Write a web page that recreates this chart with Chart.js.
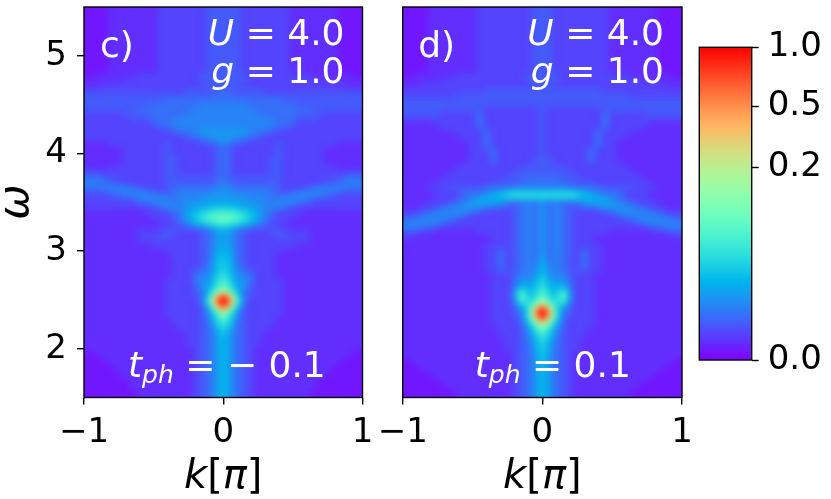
<!DOCTYPE html>
<html><head><meta charset="utf-8"><title>Spectral function A(k, omega)</title>
<script src="https://cdn.jsdelivr.net/npm/chart.js@4.4.1/dist/chart.umd.min.js"></script>
<style>
html,body{margin:0;padding:0;background:#fff;}
body{width:831px;height:499px;position:relative;overflow:hidden;}
canvas{position:absolute;top:0;}
</style></head><body>
<canvas id="panelC" width="380" height="499" style="left:0px"></canvas>
<canvas id="panelD" width="320" height="499" style="left:370px"></canvas>
<canvas id="cbar" width="141" height="499" style="left:690px"></canvas>
<script>
// ---------- data ----------
const GAMMA = 0.3;               // colour norm exponent (PowerNorm)
const kValues = [-1,-0.95,-0.9,-0.85,-0.8,-0.75,-0.7,-0.65,-0.6,-0.55,-0.5,-0.45,-0.4,-0.35,-0.3,-0.25,-0.2,-0.15,-0.1,-0.05,0,0.05,0.1,0.15,0.2,0.25,0.3,0.35,0.4,0.45,0.5,0.55,0.6,0.65,0.7,0.75,0.8,0.85,0.9,0.95,1];
const omegaValues = [5.5,5.45,5.4,5.35,5.3,5.25,5.2,5.15,5.1,5.05,5,4.95,4.9,4.85,4.8,4.75,4.7,4.65,4.6,4.55,4.5,4.45,4.4,4.35,4.3,4.25,4.2,4.15,4.1,4.05,4,3.95,3.9,3.85,3.8,3.75,3.7,3.65,3.6,3.55,3.5,3.45,3.4,3.35,3.3,3.25,3.2,3.15,3.1,3.05,3,2.95,2.9,2.85,2.8,2.75,2.7,2.65,2.6,2.55,2.5,2.45,2.4,2.35,2.3,2.25,2.2,2.15,2.1,2.05,2,1.95,1.9,1.85,1.8,1.75,1.7,1.65,1.6,1.55,1.5];
const xTicks = [-1, 0, 1];
const yTicks = [2, 3, 4, 5];
const cbarTicks = [0, 0.2, 0.5, 1.0];
const cbarLabels = ['0.0', '0.2', '0.5', '1.0'];

// Spectral weight, one row per omega (top -> bottom),
// 41 columns over k. Each level c (base36, 0..35) is A = (c/35)^(1/GAMMA).
// Run-length coded: "3*12" = twelve cells of level 3.
const panelC_levels = [
"1*4 2*7 3*7 4*5 3*7 2*7 1*4","1*4 2*7 3*7 4*5 3*7 2*7 1*4","1*4 2*7 3*7 4*5 3*7 2*7 1*4","1*4 2*7 3*7 4*5 3*7 2*7 1*4",
"1*4 2*7 3*7 4*5 3*7 2*7 1*4","1*4 2*7 3*7 4*5 3*7 2*7 1*4","1*4 2*7 3*7 4*5 3*7 2*7 1*4","1*4 2*7 3*7 4*5 3*7 2*7 1*4",
"1*4 2*7 3*7 4*5 3*7 2*7 1*4","1*4 2*7 3*7 4*5 3*7 2*7 1*4","1*4 2*7 3*7 4*5 3*7 2*7 1*4","1*4 2*7 3*7 4*5 3*7 2*7 1*4",
"1*4 2*7 3*7 4*5 3*7 2*7 1*4","1*4 2*7 3*7 4*5 3*7 2*7 1*4",
"1*2 2*6 3*9 4*7 3*9 2*6 1*2",
"2*6 3*11 4*7 3*11 2*6",
"2*3 3*15 4*5 3*15 2*3",
"3*15 4*5 5 4*5 3*15",
"4*19 5*3 4*19",
"4*12 5*17 4*12",
"4*10 5*7 6*7 5*7 4*10",
"4*8 5*8 6*9 5*8 4*8",
"3*6 4*4 5*5 6*11 5*5 4*4 3*6",
"3*7 4*3 5*3 6*15 5*3 4*3 3*7",
"3*10 4 5*2 6*15 5*2 4 3*10",
"3*11 4*2 5 6*3 7*7 6*3 5 4*2 3*11",
"3*13 4*2 5 6 7*7 6 5 4*2 3*13",
"3*15 4*2 5 6 7*3 6 5 4*2 3*15",
"2*4 3*8 4 3*4 4*2 5 6 5 4*2 3*4 4 3*8 2*4",
"2*6 3*6 4 3*6 4 5 4 3*6 4 3*6 2*6",
"2*6 3*6 4 3*6 4 5 4 3*6 4 3*6 2*6",
"2*6 3*6 4*2 3*5 4 5 4 3*5 4*2 3*6 2*6",
"2*6 3*6 4*2 3*5 4 5 4 3*5 4*2 3*6 2*6",
"2*4 3*8 4*2 3*5 4 5 4 3*5 4*2 3*8 2*4",
"4*3 3*9 4*2 3*5 4 5 4 3*5 4*2 3*9 4*3",
"5*3 4*2 3*7 4*8 5 4*8 3*7 4*2 5*3",
"6*3 5 4*2 3*6 4*7 5 6 5 4*7 3*6 4*2 5 6*3",
"5*3 6*4 5 4 3*3 4 5*6 6*3 5*6 4 3*3 4 5 6*4 5*3",
"4*4 5*2 6*4 5 4*2 5 6*5 7*3 6*5 5 4*2 5 6*4 5*2 4*4",
"3*4 4*2 5*2 6*5 5 6*3 7*7 6*3 5 6*5 5*2 4*2 3*4",
"3*8 5*2 6*5 7*3 8*5 7*3 6*5 5*2 3*8",
"3*10 4 5 6*3 7 8*2 9 a*3 9 8*2 7 6*3 5 4 3*10",
"2*9 3*3 4 5 6 8 9 b c d*3 c b 9 8 6 5 4 3*3 2*9",
"2*10 3*3 4 6 8 a c e f g f e c a 8 6 4 3*3 2*10",
"2*11 3*2 4 5 7 9 b d e f e d b 9 7 5 4 3*2 2*11",
"2*11 3*3 4 5 6 7 8 a b a 8 7 6 5 4 3*3 2*11",
"2*8 3*4 4*2 3*3 4 5 7 8 7 5 4 3*3 4*2 3*4 2*8",
"2*8 3*3 4*2 3*4 4 5 7 8 7 5 4 3*4 4*2 3*3 2*8",
"2*8 3*9 4 5 7 8 7 5 4 3*9 2*8",
"2*10 3*7 4 5 7 8 7 5 4 3*7 2*10",
"2*12 3*5 4 5 8 9 8 5 4 3*5 2*12",
"2*13 3*4 4 5 8 9 8 5 4 3*4 2*13",
"2*13 3*4 4 5 9 a 9 5 4 3*4 2*13",
"2*13 3*4 4 6 9 a 9 6 4 3*4 2*13",
"2*13 3*3 4 5 6 9 b 9 6 5 4 3*3 2*13",
"2*13 3*3 5 6 7 a c a 7 6 5 3*3 2*13",
"2*12 3*4 5 7 7 b d b 7 7 5 3*4 2*12",
"2*12 3*4 4 7 8 c f c 8 7 4 3*4 2*12",
"2*12 3*4 4 6 9 e j e 9 6 4 3*4 2*12",
"2*12 3*4 4 5 b m u m b 5 4 3*4 2*12",
"2*12 3*5 6 e t z t e 6 3*5 2*12",
"2*12 3*5 5 c q x q c 5 3*5 2*12",
"2*12 3*5 4 8 h q h 8 4 3*5 2*12",
"2*12 3*5 4 7 c i c 7 4 3*5 2*12",
"2*13 3*4 4 6 b e b 6 4 3*4 2*13",
"2*13 3*4 4 5 a c a 5 4 3*4 2*13",
"2*14 3*3 4 5 8 b 8 5 4 3*3 2*14",
"2*15 3*2 4 5 7 a 7 5 4 3*2 2*15",
"2*15 3*2 4 5 7 9 7 5 4 3*2 2*15",
"2*15 3*2 4 5 7 9 7 5 4 3*2 2*15",
"2*16 3 4 5 7 9 7 5 4 3 2*16",
"1*2 2*14 3 4 5 7 9 7 5 4 3 2*14 1*2",
"1*3 2*13 3 4 5 7 9 7 5 4 3 2*13 1*3",
"1*4 2*12 3 4 5 7 9 7 5 4 3 2*12 1*4",
"1*5 2*11 3 4 5 7 9 7 5 4 3 2*11 1*5",
"1*5 2*11 3 4 5 7 9 7 5 4 3 2*11 1*5",
"1*6 2*10 3 4 5 7 9 7 5 4 3 2*10 1*6",
"1*7 2*9 3 4 5 7 9 7 5 4 3 2*9 1*7",
"1*7 2*9 3 4 5 7 9 7 5 4 3 2*9 1*7",
"1*8 2*8 3 4 5 7 9 7 5 4 3 2*8 1*8",
"1*8 2*8 3 4 5 7 9 7 5 4 3 2*8 1*8"
];

const panelD_levels = [
"1*4 2*7 3*8 4*3 3*8 2*7 1*4","1*4 2*7 3*8 4*3 3*8 2*7 1*4","1*4 2*7 3*8 4*3 3*8 2*7 1*4","1*4 2*7 3*8 4*3 3*8 2*7 1*4",
"1*4 2*7 3*8 4*3 3*8 2*7 1*4","1*4 2*7 3*8 4*3 3*8 2*7 1*4","1*4 2*7 3*8 4*3 3*8 2*7 1*4","1*4 2*7 3*8 4*3 3*8 2*7 1*4",
"1*4 2*7 3*8 4*3 3*8 2*7 1*4","1*4 2*7 3*8 4*3 3*8 2*7 1*4","1*4 2*7 3*8 4*3 3*8 2*7 1*4","1*4 2*7 3*8 4*3 3*8 2*7 1*4",
"1*4 2*7 3*8 4*3 3*8 2*7 1*4","1*4 2*7 3*8 4*3 3*8 2*7 1*4",
"1*2 2*6 3*10 4*5 3*10 2*6 1*2",
"2*6 3*12 4*5 3*12 2*6",
"2*3 3*16 4*3 3*16 2*3",
"3*12 4*17 3*12",
"3*8 4*25 3*8",
"4*41",
"4*41",
"4*12 3*8 4 3*8 4*12",
"4*6 3*5 5 3*8 4 3*8 5 3*5 4*6",
"3*11 5 3*8 4 3*8 5 3*11",
"2*5 3*6 5 3*8 4 3*8 5 3*6 2*5",
"2*6 3*5 4*2 3*7 4 3*7 4*2 3*5 2*6",
"2*8 3*4 5 3*7 4 3*7 5 3*4 2*8",
"2*9 3*3 5 3*7 4 3*7 5 3*3 2*9",
"2*10 3*2 5 3*7 4 3*7 5 3*2 2*10",
"2*10 3*2 4*2 3*6 4 3*6 4*2 3*2 2*10",
"2*10 3*3 5 3*6 4 3*6 5 3*3 2*10",
"2*10 3*3 5 3*5 4*3 3*5 5 3*3 2*10",
"2*9 3*4 4 3*5 4*3 3*5 4 3*4 2*9",
"2*8 3*9 4*7 3*9 2*8",
"2*7 3*9 4*9 3*9 2*7",
"2*6 3*9 4*3 5*5 4*3 3*9 2*6",
"2*5 3*8 4*4 5*7 4*4 3*8 2*5",
"2*4 3*3 4*5 5*4 6*9 5*4 4*5 3*3 2*4",
"2*5 3*4 5*3 6 7 9 a b*9 a 9 7 6 5*3 3*4 2*5",
"2*5 3*3 4 5 6 7 8 9 9 a b*9 a 9 9 8 7 6 5 4 3*3 2*5",
"2*4 3*3 4 5 6 7 8 8 8 7 6 5 5 6 5 7 5 6 5 5 6 7 8 8 8 7 6 5 4 3*3 2*4",
"2*3 3*2 4 5 6 6 7 7 7 6 5 5 4 4 5 6 5 7 5 6 5 4 4 5 5 6 7 7 7 6 6 5 4 3*2 2*3",
"3*3 4 5 6 6 6 7 6 5 4 3*4 4 5 6 5 7 5 6 5 4 3*4 4 5 6 7 6 6 6 5 4 3*3",
"4*2 5 6*5 5 4 3*6 4 5 6 5 7 5 6 5 4 3*6 4 5 6*5 5 4*2",
"5 6*5 5 4 3*8 4 5 6 5 7 5 6 5 4 3*8 4 5 6*5 5",
"6*3 5*2 4 3*10 4 5 6 5 7 5 6 5 4 3*10 4 5*2 6*3",
"4*3 3*2 2*6 3*5 4 5 6 5 7 5 6 5 4 3*5 2*6 3*2 4*3",
"3*2 2*11 3*3 4 5 6 5 7 5 6 5 4 3*3 2*11 3*2",
"2*13 3*3 4 5 6 5 7 5 6 5 4 3*3 2*13",
"2*12 3*4 4 5 6 5 7 5 6 5 4 3*4 2*12",
"2*12 3*2 5 3 4 5 6 5 7 5 6 5 4 3 5 3*2 2*12",
"2*12 3*2 5 3 4 5 6 5 8 5 6 5 4 3 5 3*2 2*12",
"2*12 3*2 5 3 4 5 6 5 8 5 6 5 4 3 5 3*2 2*12",
"2*12 3*2 5 3 4 5 6 6 9 6 6 5 4 3 5 3*2 2*12",
"2*12 3*2 4 4 4 5 6 6 9 6 6 5 4 4 4 3*2 2*12",
"2*13 3*3 4 6 6 7 a 7 6 6 4 3*3 2*13",
"2*13 3*3 5 7 7 8 b 8 7 7 5 3*3 2*13",
"2*13 3*3 5 8 8 9 c 9 8 8 5 3*3 2*13",
"2*13 3*3 6 c 9 a d a 9 c 6 3*3 2*13",
"2*13 3*3 7 f a b f b a f 7 3*3 2*13",
"2*13 3*3 6 e b d i d b e 6 3*3 2*13",
"2*13 3*3 5 a c h p h c a 5 3*3 2*13",
"2*13 3*3 4 7 c q y q c 7 4 3*3 2*13",
"2*13 3*3 4 6 d r z r d 6 4 3*3 2*13",
"2*13 3*4 5 b m u m b 5 3*4 2*13",
"2*13 3*4 5 9 f l f 9 5 3*4 2*13",
"2*14 3*3 4 7 c g c 7 4 3*3 2*14",
"2*14 3*3 4 6 a d a 6 4 3*3 2*14",
"2*15 3*2 4 6 9 c 9 6 4 3*2 2*15",
"2*15 3*2 4 5 8 b 8 5 4 3*2 2*15",
"2*15 3*2 4 5 8 a 8 5 4 3*2 2*15",
"2*16 3 4 5 7 a 7 5 4 3 2*16",
"1 2*15 3 4 5 7 a 7 5 4 3 2*15 1",
"1*2 2*14 3 4 5 7 9 7 5 4 3 2*14 1*2",
"1*3 2*13 3 4 5 7 9 7 5 4 3 2*13 1*3",
"1*4 2*12 3 4 5 7 9 7 5 4 3 2*12 1*4",
"1*5 2*11 3 4 5 7 9 7 5 4 3 2*11 1*5",
"1*6 2*10 3 4 5 7 9 7 5 4 3 2*10 1*6",
"1*7 2*9 3 4 5 7 9 7 5 4 3 2*9 1*7",
"1*8 2*8 3 4 5 7 9 7 5 4 3 2*8 1*8",
"1*8 2*8 3 4 5 7 9 7 5 4 3 2*8 1*8"
];

// ---------- helpers ----------
const FONT = '"DejaVu Sans", "Liberation Sans", sans-serif';

function decodeRow(s) {
  const out = [];
  s.trim().split(/\s+/).forEach(tok => {
    const parts = tok.split('*');
    const lv = parseInt(parts[0], 36);
    const n = parts.length > 1 ? parseInt(parts[1], 10) : 1;
    for (let i = 0; i < n; i++) out.push(Math.pow(lv / 35, 1 / GAMMA));
  });
  if (out.length !== kValues.length) console.warn('row length', out.length, s);
  while (out.length < kValues.length) out.push(out[out.length - 1]);
  out.length = kValues.length;
  return out;
}
function decodeGrid(rows) { return rows.map(decodeRow); }

function rainbow(f) {
  f = Math.max(0, Math.min(1, f));
  const r = Math.min(1, Math.abs(2 * f - 0.5));
  const g = Math.sin(Math.PI * f);
  const b = Math.cos(Math.PI * f / 2);
  return [Math.round(r * 255), Math.round(g * 255), Math.round(b * 255)];
}
function normVal(v) { return Math.pow(Math.max(0, Math.min(1, v)), GAMMA); }
function fmtNum(v) { return (v < 0 ? '\u2212' : '') + String(Math.abs(v)); }

// Catmull-Rom weights (image resampling, like imshow interpolation='bicubic')
function crw(t) {
  const t2 = t * t, t3 = t2 * t;
  return [(-t3 + 2 * t2 - t) / 2, (3 * t3 - 5 * t2 + 2) / 2, (-3 * t3 + 4 * t2 + t) / 2, (t3 - t2) / 2];
}

function makeHeat(values) {
  const nx = kValues.length, ny = omegaValues.length;
  const F = values.map(r => r.map(normVal));   // colour-norm space
  const M = 10;                                  // margin so the soft filter has no edge fade
  let cache = null;
  return {
    id: 'heat',
    beforeDatasetsDraw(chart) {
      const a = chart.chartArea, ctx = chart.ctx;
      const xs = chart.scales.x, ys = chart.scales.y;
      const W = Math.round(a.right - a.left), H = Math.round(a.bottom - a.top);
      const sx = (a.right - a.left) / W, sy = (a.bottom - a.top) / H;
      if (!cache) {
        const off = document.createElement('canvas');
        off.width = W + 2 * M; off.height = H + 2 * M;
        const octx = off.getContext('2d');
        const img = octx.createImageData(off.width, off.height);
        const dk = kValues[1] - kValues[0];
        const dw = omegaValues[0] - omegaValues[1];
        for (let py = 0; py < off.height; py++) {
          const w = ys.getValueForPixel(a.top + (py - M + 0.5) * sy);
          const gy = Math.max(0, Math.min(ny - 1, (omegaValues[0] - w) / dw));
          const jy = Math.floor(gy), ty = gy - jy, wy = crw(ty);
          for (let px = 0; px < off.width; px++) {
            const k = xs.getValueForPixel(a.left + (px - M + 0.5) * sx);
            const gx = Math.max(0, Math.min(nx - 1, (k - kValues[0]) / dk));
            const ix = Math.floor(gx), tx = gx - ix, wx = crw(tx);
            let f = 0;
            for (let m = 0; m < 4; m++) {
              const jj = Math.max(0, Math.min(ny - 1, jy - 1 + m));
              const row = F[jj];
              let s = 0;
              for (let n = 0; n < 4; n++) {
                const ii = Math.max(0, Math.min(nx - 1, ix - 1 + n));
                s += wx[n] * row[ii];
              }
              f += wy[m] * s;
            }
            const c = rainbow(f);
            const p = (py * off.width + px) * 4;
            img.data[p] = c[0]; img.data[p + 1] = c[1]; img.data[p + 2] = c[2]; img.data[p + 3] = 255;
          }
        }
        octx.putImageData(img, 0, 0);
        cache = off;
      }
      ctx.save();
      ctx.beginPath(); ctx.rect(a.left, a.top, a.right - a.left, a.bottom - a.top); ctx.clip();
      ctx.imageSmoothingEnabled = true;
      ctx.filter = 'blur(3px)';
      ctx.drawImage(cache, a.left - M * sx, a.top - M * sy, cache.width * sx, cache.height * sy);
      ctx.filter = 'none';
      ctx.restore();
    }
  };
}

const framePlugin = {
  id: 'frame',
  afterDraw(chart) {
    const a = chart.chartArea, ctx = chart.ctx;
    ctx.save();
    ctx.strokeStyle = '#000'; ctx.lineWidth = 1.4;
    ctx.strokeRect(a.left, a.top, a.right - a.left, a.bottom - a.top);
    ctx.restore();
  }
};

function drawMath(ctx, parts, x, y, align, color) {
  let total = 0;
  const ws = parts.map(p => {
    ctx.font = (p.it ? 'italic ' : '') + p.size + 'px ' + FONT;
    const w = ctx.measureText(p.t).width; total += w; return w;
  });
  let cx = align === 'right' ? x - total : (align === 'center' ? x - total / 2 : x);
  ctx.fillStyle = color; ctx.textAlign = 'left'; ctx.textBaseline = 'alphabetic';
  parts.forEach((p, i) => {
    ctx.font = (p.it ? 'italic ' : '') + p.size + 'px ' + FONT;
    ctx.fillText(p.t, cx, y + (p.dy || 0));
    cx += ws[i];
  });
}

function makeText(cfg) {
  return {
    id: 'annot',
    afterDraw(chart) {
      const a = chart.chartArea, ctx = chart.ctx;
      ctx.save();
      drawMath(ctx, [{t: cfg.label, size: 36}], a.left + cfg.labelDx, 57, 'left', '#fff');
      drawMath(ctx, [{t: 'U', it: true, size: 36}, {t: ' = 4.0', size: 36}], a.right - 18, 45, 'right', '#fff');
      drawMath(ctx, [{t: 'g', it: true, size: 36}, {t: ' = 1.0', size: 36}], a.right - 18, 83, 'right', '#fff');
      drawMath(ctx, [{t: 't', it: true, size: 36}, {t: 'ph', it: true, size: 25, dy: 6}, {t: cfg.tph, size: 36}],
               a.left + cfg.tphDx, 377, 'left', '#fff');
      drawMath(ctx, [{t: 'k', it: true, size: 40}, {t: '[', size: 40}, {t: '\u03C0', it: true, size: 40}, {t: ']', size: 40}],
               (a.left + a.right) / 2, 488, 'center', '#000');
      if (cfg.omega) {
        ctx.translate(16, (a.top + a.bottom) / 2);
        ctx.rotate(-Math.PI / 2);
        ctx.font = 'italic 42px ' + FONT;
        ctx.fillStyle = '#000'; ctx.textAlign = 'center'; ctx.textBaseline = 'alphabetic';
        ctx.fillText('\u03C9', 0, 11.5);
      }
      ctx.restore();
    }
  };
}

const tickFont = {family: FONT, size: 34};
const gridOpts = {drawOnChartArea: false, drawTicks: true, tickLength: 7, tickColor: '#000', tickWidth: 1.4, color: '#000', lineWidth: 1.4};

function panelChart(id, levels, showY, pad, cfg) {
  const values = decodeGrid(levels);
  const yOpts = {
    type: 'linear', min: 1.5, max: 5.5, display: showY,
    afterBuildTicks: s => { s.ticks = yTicks.map(v => ({value: v})); },
    afterFit: s => { if (showY) s.width = 84; s.paddingTop = 0; s.paddingBottom = 0; },
    ticks: {color: '#000', font: tickFont, padding: 10, callback: v => fmtNum(v)},
    grid: gridOpts, border: {display: false}
  };
  return new Chart(document.getElementById(id), {
    type: 'scatter',
    data: {datasets: [{data: [], pointRadius: 0}]},
    options: {
      responsive: false, animation: false, events: [],
      layout: {padding: pad},
      plugins: {legend: {display: false}, tooltip: {enabled: false}},
      scales: {
        x: {
          type: 'linear', min: -1, max: 1,
          afterBuildTicks: s => { s.ticks = xTicks.map(v => ({value: v})); },
          afterFit: s => { s.height = 101.5; s.paddingLeft = 0; s.paddingRight = 0; },
          ticks: {color: '#000', font: tickFont, padding: 8, maxRotation: 0, autoSkip: false, callback: v => fmtNum(v)},
          grid: gridOpts, border: {display: false}
        },
        y: yOpts
      }
    },
    plugins: [makeHeat(values), framePlugin, makeText(cfg)]
  });
}

panelChart('panelC', panelC_levels, true, {left: 0, top: 7, right: 17.5, bottom: 0},
  {label: 'c)', labelDx: 16, tph: ' = \u2212 0.1', tphDx: 44, omega: true});
panelChart('panelD', panelD_levels, false, {left: 32.7, top: 7, right: 8, bottom: 0},
  {label: 'd)', labelDx: 15.5, tph: ' = 0.1', tphDx: 72, omega: false});

// ---------- colour bar ----------
const cbarPlugin = {
  id: 'cbarFill',
  beforeDatasetsDraw(chart) {
    const a = chart.chartArea, ctx = chart.ctx, ys = chart.scales.y;
    const g = ctx.createLinearGradient(0, ys.getPixelForValue(0), 0, ys.getPixelForValue(1));
    for (let i = 0; i <= 64; i++) {
      const f = i / 64, c = rainbow(f);
      g.addColorStop(f, 'rgb(' + c[0] + ',' + c[1] + ',' + c[2] + ')');
    }
    ctx.save(); ctx.fillStyle = g;
    ctx.fillRect(a.left, a.top, a.right - a.left, a.bottom - a.top);
    ctx.restore();
  }
};

new Chart(document.getElementById('cbar'), {
  type: 'scatter',
  data: {datasets: [{data: [], pointRadius: 0}]},
  options: {
    responsive: false, animation: false, events: [],
    layout: {padding: {left: 9.3, top: 47.3, right: 0, bottom: 139}},
    plugins: {legend: {display: false}, tooltip: {enabled: false}},
    scales: {
      x: {type: 'linear', display: false, min: 0, max: 1},
      y: {
        type: 'linear', position: 'right', min: 0, max: 1,
        afterBuildTicks: s => { s.ticks = cbarTicks.map(v => ({value: normVal(v)})); },
        afterTickToLabelConversion: s => { s.ticks.forEach((t, i) => { t.label = cbarLabels[i]; }); },
        afterFit: s => { s.width = 79.3; s.paddingTop = 0; s.paddingBottom = 0; },
        ticks: {color: '#000', font: tickFont, padding: 9},
        grid: {drawOnChartArea: false, drawTicks: true, tickLength: 7, tickColor: '#000', tickWidth: 1.4},
        border: {display: false}
      }
    }
  },
  plugins: [cbarPlugin, framePlugin]
});
</script>
</body></html>
